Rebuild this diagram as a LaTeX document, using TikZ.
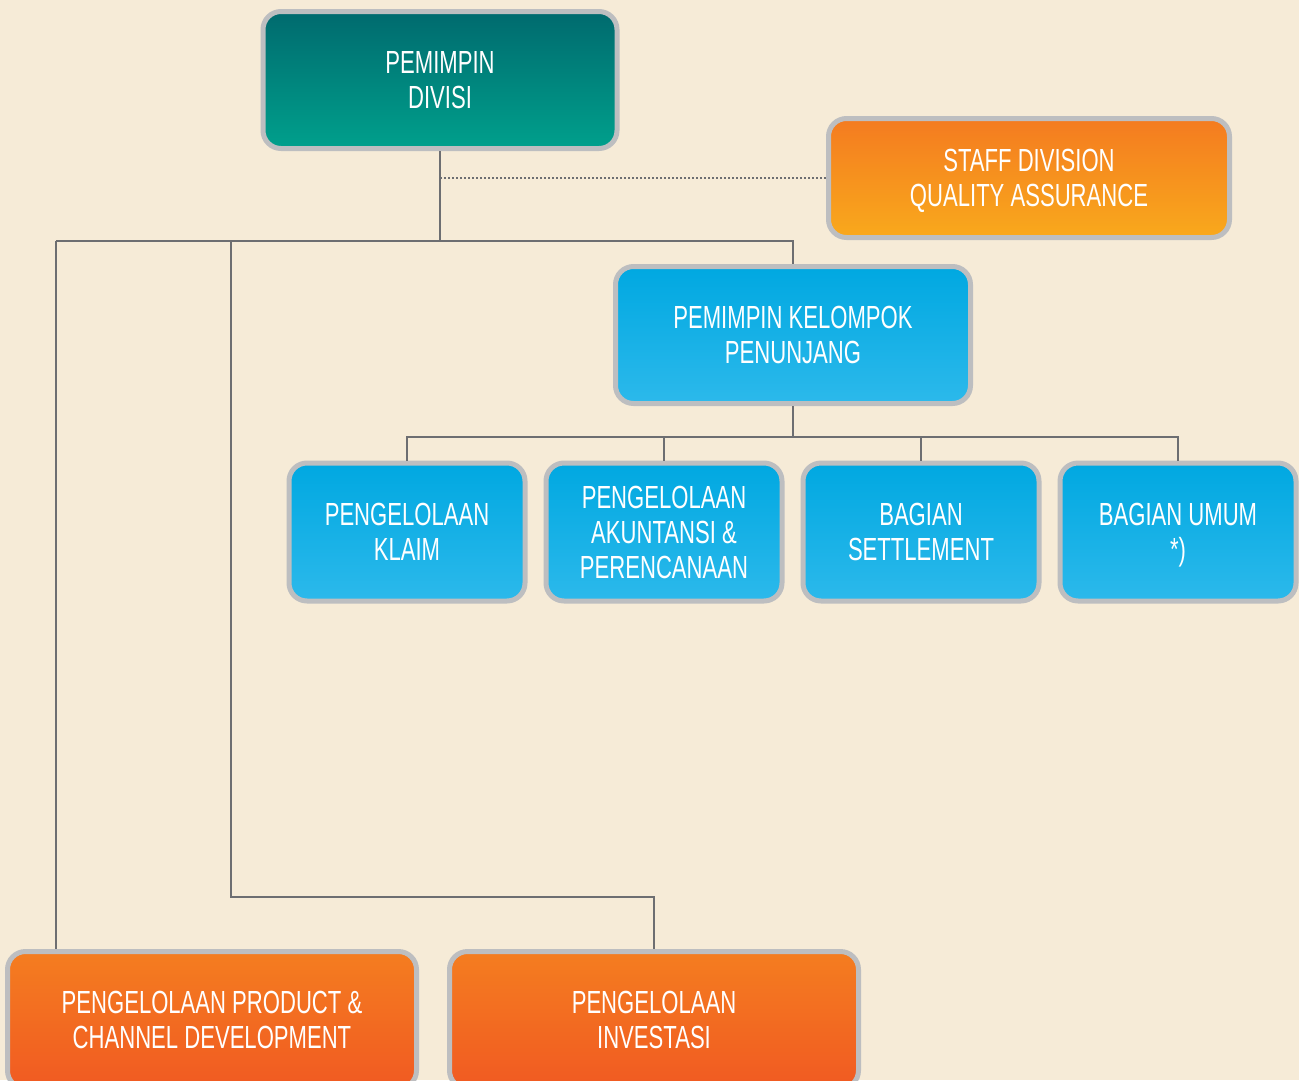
\documentclass[tikz,border=0pt]{standalone}
\usepackage{fontspec}
\newfontfamily\boxfont{Liberation Sans}[FakeStretch=0.69]
\usepackage{tikz}
\usetikzlibrary{calc}
\definecolor{paper}{HTML}{F6EBD7}
\definecolor{rim}{HTML}{BDBEC0}
\definecolor{wire}{HTML}{6D6E71}
\definecolor{tealtop}{HTML}{006A6E}
\definecolor{tealbot}{HTML}{00A08C}
\definecolor{bluetop}{HTML}{00A8E1}
\definecolor{bluebot}{HTML}{2CB9EB}
\definecolor{ambtop}{HTML}{F47B20}
\definecolor{ambbot}{HTML}{F9A91C}
\definecolor{redtop}{HTML}{F47D20}
\definecolor{redbot}{HTML}{F15A22}
\tikzset{
  unit/.style={draw=rim,line width=5pt,rounded corners=18pt,text=white,align=center,
    inner sep=0pt,text depth=0pt,font=\boxfont\fontsize{32}{35}\selectfont},
  tealunit/.style={unit,top color=tealtop,bottom color=tealbot},
  blueunit/.style={unit,top color=bluetop,bottom color=bluebot},
  ambunit/.style={unit,top color=ambtop,bottom color=ambbot},
  redunit/.style={unit,top color=redtop,bottom color=redbot},
  link/.style={draw=wire,line width=2pt},
  dotlink/.style={draw=wire,line width=2pt,dash pattern=on 1.6pt off 2.4pt}
}

\begin{document}
\begin{tikzpicture}[x=1pt,y=-1pt]
            \fill[paper] (0,0) rectangle (1299,1080);
            \useasboundingbox (0,0) rectangle (1299,1080);
            \clip (0,0) rectangle (1299,1080);

            % pimpinan
            \node[tealunit,minimum width=354pt,minimum height=137pt] (pd) at (440,80) {PEMIMPIN\\DIVISI};
            \node[ambunit,minimum width=401pt,minimum height=119pt] (sqa) at (1029,178) {STAFF DIVISION\\QUALITY ASSURANCE};
            \node[blueunit,minimum width=355pt,minimum height=137pt] (pkp) at (793,335) {PEMIMPIN KELOMPOK\\PENUNJANG};

            % bagian di bawah kelompok penunjang
            \node[blueunit,minimum width=236pt,minimum height=138pt] (klaim) at (407,532) {PENGELOLAAN\\KLAIM};
            \node[blueunit,minimum width=236pt,minimum height=138pt] (akun) at (664,532) {PENGELOLAAN\\AKUNTANSI \&\\PERENCANAAN};
            \node[blueunit,minimum width=236pt,minimum height=138pt] (settle) at (921,532) {BAGIAN\\SETTLEMENT};
            \node[blueunit,minimum width=236pt,minimum height=138pt] (umum) at (1178,532) {BAGIAN UMUM\\*)};

            % bawah
            \node[redunit,minimum width=409pt,minimum height=137pt] (prod) at (212,1020) {PENGELOLAAN PRODUCT \&\\CHANNEL DEVELOPMENT};
            \node[redunit,minimum width=409pt,minimum height=137pt] (inv) at (654,1020) {PENGELOLAAN\\INVESTASI};

            % garis
            \coordinate (bus) at (440,241);
            \coordinate (busl) at (56,241);
            \coordinate (busm) at (231,241);
            \coordinate (kink) at (231,897);
            \coordinate (sub) at (793,437);

            \draw[dotlink] (pd.south |- sqa.west) -- (sqa.west);
            \draw[link] (pd.south) -- (bus);
            \draw[link] (busl) -- (bus) -| (pkp.north);
            \draw[link] (busl) -- (busl |- prod.north);
            \draw[link] (busm) -- (kink) -| (inv.north);

            \draw[link] (pkp.south) -- (sub);
            \draw[link] (sub) -| (klaim.north);
            \draw[link] (sub) -| (akun.north);
            \draw[link] (sub) -| (settle.north);
            \draw[link] (sub) -| (umum.north);
        \end{tikzpicture}
\end{document}
